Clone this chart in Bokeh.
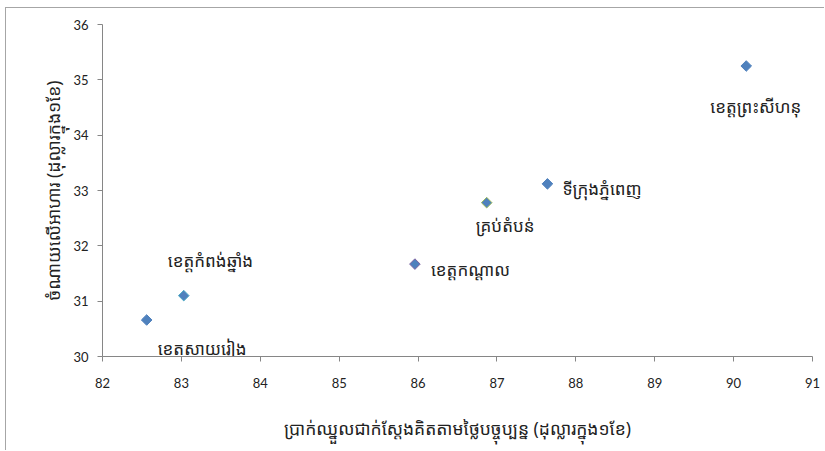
import math
from bokeh.plotting import figure
from bokeh.models import ColumnDataSource, Range1d, FixedTicker
from bokeh.core.properties import value
from bokeh.embed import file_html
from bokeh.resources import INLINE

# ---- data ----
regions = ["ខេត្តស្វាយរៀង", "ខេត្តកំពង់ឆ្នាំង", "ខេត្តកណ្ដាល", "គ្រប់តំបន់", "ទីក្រុងភ្នំពេញ", "ខេត្តព្រះសីហនុ"]
wages = [82.56, 83.03, 85.96, 86.87, 87.64, 90.16]
food = [30.66, 31.10, 31.67, 32.78, 33.12, 35.25]
x_ticks = [82, 83, 84, 85, 86, 87, 88, 89, 90, 91]
y_ticks = [30, 31, 32, 33, 34, 35, 36]
x_title = "ប្រាក់ឈ្នួលជាក់ស្តែងគិតតាមថ្លៃបច្ចុប្បន្ន (ដុល្លារក្នុង១ខែ)"
y_title = "ចំណាយលើអាហារ (ដុល្លារក្នុង១ខែ)"

# ---- styles (label placement in screen px, marker edge colours) ----
edge_colors = ["#4F81BD", "#4BACC6", "#8064A2", "#9BBB59", "#4F81BD", "#4F81BD"]
dx = [11, -16, 16, -11, 15, -36]
dy = [29, -35, 5, 23, 5, 40]

src = ColumnDataSource(dict(x=wages, y=food, name=regions, edge=edge_colors, dx=dx, dy=dy))

KH = "Noto Sans Khmer, Khmer OS, Noto Sans, DejaVu Sans"

p = figure(width=819, height=443, output_backend="svg", toolbar_location=None,
           x_range=Range1d(82, 91), y_range=Range1d(30, 36),
           min_border_left=96, min_border_right=13, min_border_top=16, min_border_bottom=95)
p.styles = {"margin-left": "5px", "margin-top": "7px",
            "border-left": "1px solid #a6a6a6", "border-top": "1px solid #a6a6a6"}
p.outline_line_color = None
p.grid.visible = False
p.background_fill_color = "white"
p.border_fill_color = "white"

p.scatter("x", "y", source=src, marker="square", size=7.5, angle=math.pi / 4,
          fill_color="#4F81BD", line_color="edge", line_width=1)

p.text("x", "y", text="name", source=src, x_offset="dx", y_offset="dy",
       text_font=value(KH), text_font_size="17px", text_color="#222222",
       text_align="left", text_baseline="middle")

for ax in (p.xaxis[0], p.yaxis[0]):
    ax.axis_line_color = "#868686"
    ax.major_tick_line_color = "#868686"
    ax.minor_tick_line_color = None
    ax.major_tick_in = 0
    ax.major_tick_out = 5
    ax.major_label_text_font = "Lato"
    ax.major_label_text_font_size = "13px"
    ax.major_label_text_color = "#222222"
    ax.axis_label_text_font = KH
    ax.axis_label_text_font_size = "17.5px"
    ax.axis_label_text_font_style = "normal"
    ax.axis_label_text_color = "#222222"

p.xaxis[0].ticker = FixedTicker(ticks=x_ticks)
p.yaxis[0].ticker = FixedTicker(ticks=y_ticks)
p.xaxis[0].major_label_standoff = 16
p.yaxis[0].major_label_standoff = 9
p.xaxis[0].axis_label = x_title
p.yaxis[0].axis_label = y_title
p.xaxis[0].axis_label_standoff = 25
p.yaxis[0].axis_label_standoff = 5

open("out.html", "w").write(file_html(p, INLINE))
